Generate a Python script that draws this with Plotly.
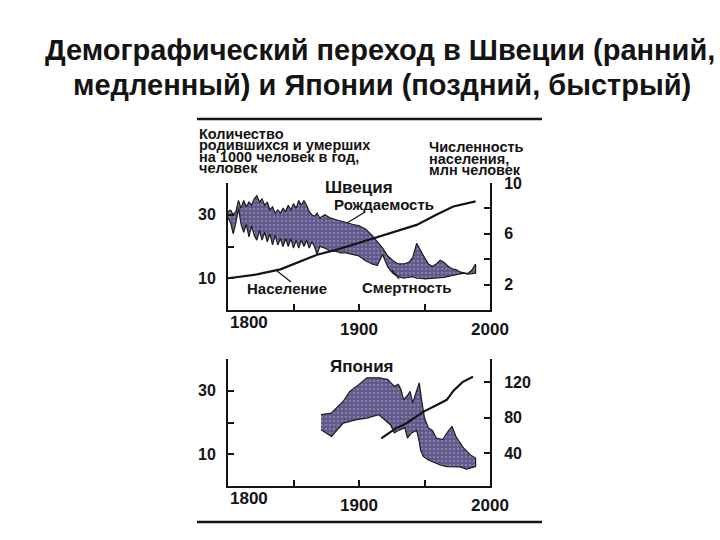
import plotly.graph_objects as go

W, H = 720, 540

# ---------------- data ----------------
# Sweden: births and deaths per 1000 per year
swe_years = [1800, 1802, 1804, 1806, 1808, 1810, 1812, 1814, 1816, 1818, 1820, 1822,
             1824, 1826, 1828, 1830, 1832, 1834, 1836, 1838, 1840, 1842, 1844, 1846,
             1848, 1850, 1852, 1854, 1856, 1858, 1860, 1862, 1864, 1866, 1868, 1870,
             1874, 1878, 1882, 1886, 1890, 1895, 1900, 1905, 1910, 1914, 1918, 1922,
             1926, 1930, 1934, 1938, 1941, 1944, 1947, 1950, 1953, 1956, 1959, 1962,
             1965, 1968, 1971, 1974, 1977, 1980, 1983, 1986, 1989]
swe_birth = [31.0, 31.5, 30.0, 31.0, 34.5, 32.0, 34.5, 32.5, 34.0, 33.0, 35.0, 36.0,
             34.0, 35.0, 33.0, 34.0, 31.5, 32.5, 30.5, 31.5, 30.5, 32.0, 31.0, 33.0,
             31.5, 33.5, 32.0, 34.5, 33.0, 34.5, 33.0, 31.0, 30.0, 29.5, 30.5, 29.0,
             30.0, 29.0, 28.5, 28.0, 27.5, 27.0, 26.5, 25.5, 23.5, 21.5, 19.5, 17.0,
             15.5, 14.5, 14.5, 15.0, 16.5, 21.0, 18.5, 16.5, 14.5, 13.8, 14.5, 15.7,
             15.0, 13.8, 13.0, 12.7, 12.0, 11.8, 11.5, 12.5, 14.5]
swe_death = [29.0, 27.5, 24.0, 27.5, 32.0, 27.0, 24.5, 27.0, 23.0, 26.5, 23.5, 22.0,
             25.0, 22.0, 24.5, 21.5, 24.0, 20.5, 23.5, 20.5, 22.5, 20.0, 22.5, 20.0,
             22.5, 19.5, 22.0, 19.5, 22.0, 20.0, 22.0, 19.5, 21.5, 20.0, 17.5, 20.0,
             19.5, 18.5, 18.5, 18.0, 18.0, 17.5, 17.0, 15.5, 14.5, 14.0, 17.5, 13.5,
             11.5, 10.5, 10.0, 10.2, 10.5, 10.0, 10.0, 9.8, 9.8, 10.0, 10.0, 10.2,
             10.3, 10.6, 11.0, 11.2, 11.4, 11.6, 11.3, 11.5, 11.6]
# Sweden population, million
swe_pop_years = [1800, 1822, 1840, 1855, 1868, 1883, 1903, 1924, 1944, 1959, 1972, 1989]
swe_pop = [2.5, 2.8, 3.2, 3.8, 4.35, 4.75, 5.4, 6.1, 6.7, 7.5, 8.15, 8.55]

# Japan: births and deaths per 1000 per year
jpn_birth_years = [1871, 1879, 1888, 1893, 1900, 1906, 1916, 1922, 1927, 1930, 1932,
                   1934, 1937, 1939, 1941, 1943, 1946, 1948, 1950, 1953, 1956, 1959,
                   1964, 1967, 1971, 1974, 1980, 1985, 1989]
jpn_birth = [22.5, 23.0, 26.7, 29.8, 32.0, 34.1, 34.1, 33.5, 31.4, 32.0, 30.4,
             27.2, 28.5, 29.8, 26.2, 28.5, 32.5, 26.5, 21.4, 18.3, 17.5, 15.1,
             14.6, 16.7, 18.8, 15.6, 11.9, 9.8, 8.8]
jpn_death_years = [1871, 1879, 1888, 1898, 1906, 1915, 1918, 1924, 1927, 1930, 1935,
                   1937, 1940, 1944, 1946, 1947, 1949, 1953, 1957, 1962, 1967, 1972,
                   1977, 1982, 1986, 1989]
jpn_death = [17.7, 15.6, 19.8, 20.9, 21.4, 22.5, 21.4, 19.3, 16.7, 17.5, 18.3,
             15.1, 16.7, 17.5, 14.0, 11.4, 9.3, 8.2, 7.5, 6.6, 6.1, 6.1,
             6.0, 5.3, 5.7, 6.1]
# Japan population, million
jpn_pop_years = [1917, 1928, 1936, 1944, 1949, 1959, 1964, 1967, 1972, 1979, 1987]
jpn_pop = [56.6, 67.8, 73.4, 81.0, 86.5, 94.0, 97.8, 100.0, 110.0, 120.0, 126.0]

# tick labels
x_tickvals = [1850, 1900, 1950, 2000]
x_ticktext = ["", "1900", "", "2000"]
first_year_label = "1800"
rate_tickvals = [10, 20, 30, 40]
rate_ticktext = ["10", "", "30", ""]
swe_pop_tickvals = [2, 4, 6, 8, 10]
swe_pop_ticktext = ["2", "", "6", "", "10"]
jpn_pop_tickvals = [40, 80, 120]
jpn_pop_ticktext = ["40", "80", "120"]

# ---------------- helpers ----------------
def px(x):
    return x / W

def py(y):
    return 1 - y / H

FONT = "Liberation Sans, Arial, sans-serif"
INK = "#141414"
FILL = "#6f6698"

x_dom = [px(228), px(490)]
swe_dom = [py(310), py(183)]
jpn_dom = [py(486), py(359)]

fig = go.Figure()

# Sweden
fig.add_trace(go.Scatter(
    x=swe_years + swe_years[::-1], y=swe_birth + swe_death[::-1],
    fill="toself", fillcolor=FILL, mode="lines",
    fillpattern=dict(shape=".", bgcolor="#5f5689", fgcolor="#a9a2c8", size=4, solidity=0.35),
    line=dict(color="#1b1b1b", width=1.2), xaxis="x", yaxis="y",
    hoverinfo="skip", showlegend=False))
fig.add_trace(go.Scatter(
    x=swe_pop_years, y=swe_pop, mode="lines",
    line=dict(color=INK, width=2.2), xaxis="x", yaxis="y2",
    showlegend=False))

# Japan
fig.add_trace(go.Scatter(
    x=jpn_birth_years + jpn_death_years[::-1], y=jpn_birth + jpn_death[::-1],
    fill="toself", fillcolor=FILL, mode="lines",
    fillpattern=dict(shape=".", bgcolor="#5f5689", fgcolor="#a9a2c8", size=4, solidity=0.35),
    line=dict(color="#1b1b1b", width=1.2), xaxis="x2", yaxis="y3",
    hoverinfo="skip", showlegend=False))
fig.add_trace(go.Scatter(
    x=jpn_pop_years, y=jpn_pop, mode="lines",
    line=dict(color=INK, width=2.2), xaxis="x2", yaxis="y4",
    showlegend=False))

tickfont_x = dict(family=FONT, size=17, color=INK, weight="bold")
tickfont_y = dict(family=FONT, size=16, color=INK, weight="bold")

def xaxis(anchor):
    return dict(domain=x_dom, anchor=anchor, range=[1800, 2000],
                showline=True, linecolor=INK, linewidth=2,
                ticks="inside", ticklen=6, tickwidth=1.5, tickcolor=INK,
                tickvals=x_tickvals, ticktext=x_ticktext, tickfont=tickfont_x,
                ticklabelstandoff=3, showgrid=False, zeroline=False,
                automargin=False)

def yleft(domain, anchor):
    return dict(domain=domain, anchor=anchor, range=[0, 40],
                showline=True, linecolor=INK, linewidth=2,
                ticks="inside", ticklen=6, tickwidth=1.5, tickcolor=INK,
                tickvals=rate_tickvals, ticktext=rate_ticktext, tickfont=tickfont_y,
                ticklabelstandoff=7, showgrid=False, zeroline=False,
                automargin=False)

def yright(overlay, anchor, rng, tv, tt):
    return dict(overlaying=overlay, anchor=anchor, side="right", range=rng,
                showline=True, linecolor=INK, linewidth=2,
                ticks="inside", ticklen=6, tickwidth=1.5, tickcolor=INK,
                tickvals=tv, ticktext=tt, tickfont=tickfont_y,
                ticklabelstandoff=9, showgrid=False, zeroline=False,
                automargin=False)

def txt(x, y, s, size, xanchor="center", bold=True):
    return dict(x=px(x), y=py(y), xref="paper", yref="paper", text=s,
                showarrow=False, xanchor=xanchor, yanchor="middle",
                font=dict(family=FONT, size=size, color=INK,
                          weight="bold" if bold else "normal"))

annotations = [
    txt(380, 50, "Демографический переход в Швеции (ранний,", 29),
    txt(382, 85, "медленный) и Японии (поздний, быстрый)", 29),
    txt(197, 134, "Количество", 14.5, "left"),
    txt(197, 145.5, "родившихся и умерших", 14.5, "left"),
    txt(197, 157, "на 1000 человек в год,", 14.5, "left"),
    txt(197, 168, "человек", 14.5, "left"),
    txt(427, 147, "Численность", 14.5, "left"),
    txt(427, 158.5, "населения,", 14.5, "left"),
    txt(427, 170, "млн человек", 14.5, "left"),
    txt(359, 187, "Швеция", 17),
    txt(362, 366, "Япония", 17),
    txt(384, 204, "Рождаемость", 15),
    txt(287, 288, "Население", 15),
    txt(407, 287, "Смертность", 15),
    txt(249, 322, first_year_label, 17),
    txt(249, 498, first_year_label, 17),
]

def seg(x0, y0, x1, y1, w):
    return dict(type="line", xref="paper", yref="paper",
                x0=px(x0), y0=py(y0), x1=px(x1), y1=py(y1),
                line=dict(color=INK, width=w))

shapes = [
    seg(197, 119, 542, 119, 2.5),
    seg(197, 522, 542, 522, 2.5),
    seg(365, 212, 347, 223, 1.2),
    seg(291, 282, 277, 271, 1.2),
    seg(399, 279, 392, 270, 1.2),
]

fig.update_layout(
    width=W, height=H,
    margin=dict(l=0, r=0, t=0, b=0, autoexpand=False),
    paper_bgcolor="white", plot_bgcolor="rgba(0,0,0,0)",
    showlegend=False,
    xaxis=xaxis("y"),
    yaxis=yleft(swe_dom, "x"),
    yaxis2=yright("y", "x", [0, 10], swe_pop_tickvals, swe_pop_ticktext),
    xaxis2=xaxis("y3"),
    yaxis3=yleft(jpn_dom, "x2"),
    yaxis4=yright("y3", "x2", [3, 146], jpn_pop_tickvals, jpn_pop_ticktext),
    annotations=annotations,
    shapes=shapes,
)

fig.write_html(
    "out.html",
    config={"displayModeBar": False},
    post_script="document.body.style.margin='0';document.body.style.overflow='hidden';",
)
